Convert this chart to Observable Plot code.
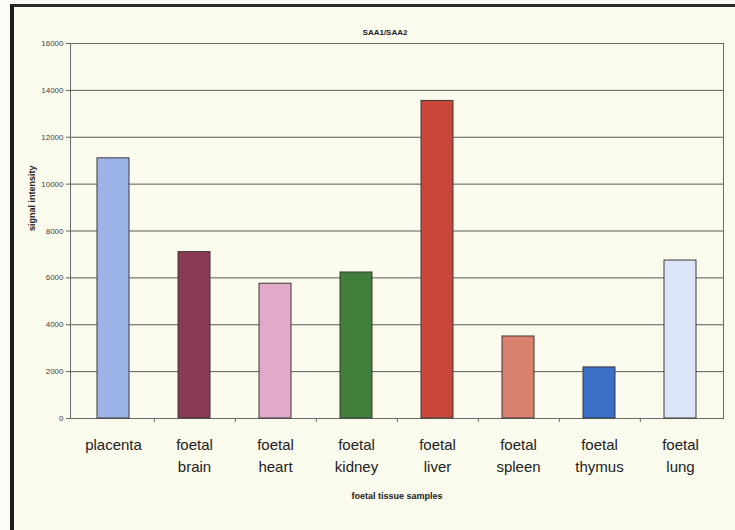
<!DOCTYPE html>
<html><head><meta charset="utf-8">
<script src="https://cdn.jsdelivr.net/npm/d3@7"></script>
<script src="https://cdn.jsdelivr.net/npm/@observablehq/plot@0.6"></script>
<style>
html,body{margin:0;padding:0;background:#fcfcf6;}
#wrap{position:relative;width:735px;height:530px;overflow:hidden;}
#bg{position:absolute;left:10px;top:4px;width:731px;height:530px;background:#fafaed;border-left:4px solid #1e1e1e;border-top:3px solid #2a2a2a;}
#chart{position:absolute;left:0;top:0;}
</style></head><body>
<div id="wrap"><div id="bg"></div><div id="chart"></div></div>
<script>
const categories = ["placenta","foetal brain","foetal heart","foetal kidney","foetal liver","foetal spleen","foetal thymus","foetal lung"];
const values = [11100, 7100, 5750, 6230, 13550, 3500, 2180, 6740];
const colors = ["#9cb3e8","#8a3a55","#e2a9c9","#3f7e3b","#c8473a","#da806e","#3b6fc7","#dde6f8"];
const yTicks = [0,2000,4000,6000,8000,10000,12000,14000,16000];
const chartTitle = "SAA1/SAA2";
const xTitle = "foetal tissue samples";
const yTitle = "signal intensity";

const data = categories.map((c, i) => ({category: c, value: values[i]}));
const width = 735, mL = 70, mR = 12;
const step = (width - mL - mR) / categories.length;

const plot = Plot.plot({
  width, height: 530,
  marginLeft: mL, marginRight: mR, marginTop: 43, marginBottom: 112,
  style: {background: "transparent", fontFamily: "'Liberation Sans', Arial, sans-serif", color: "#333"},
  x: {type: "band", domain: categories, paddingInner: 0.6, paddingOuter: 0.3, label: null},
  y: {domain: [0, 16000], label: null},
  color: {domain: categories, range: colors},
  marks: [
    Plot.gridY({ticks: yTicks, stroke: "#5a5a5a", strokeOpacity: 1}),
    Plot.frame({stroke: "#6a6a6a"}),
    Plot.barY(data, {x: "category", y: "value", fill: "category", stroke: "#3a3a3a", strokeWidth: 1}),
    Plot.ruleX(categories.slice(0, -1), {x: d => d, y1: 0, y2: 0, dx: step / 2, insetTop: 4, stroke: "#666"}),
    Plot.axisY({ticks: yTicks, tickFormat: d => String(d), tickSize: 4, tickPadding: 3, fontSize: 8, label: null, fill: "#444", stroke: "#666"}),
    Plot.axisX({tickSize: 0, tickPadding: 16, fontSize: 15, lineHeight: 1.45, label: null, fill: "#222",
      tickFormat: d => d.replace(" ", "\n")}),
    Plot.text([chartTitle], {frameAnchor: "top", dy: -14, dx: -12, fontWeight: "bold", fontSize: 8, fill: "#222"}),
    Plot.text([xTitle], {frameAnchor: "bottom", dy: 80, fontWeight: "bold", fontSize: 9, fill: "#222"}),
    Plot.text([yTitle], {frameAnchor: "left", dx: -38, rotate: -90, fontWeight: "bold", fontSize: 9, fill: "#222"})
  ]
});
document.getElementById("chart").appendChild(plot);
</script>
</body></html>
